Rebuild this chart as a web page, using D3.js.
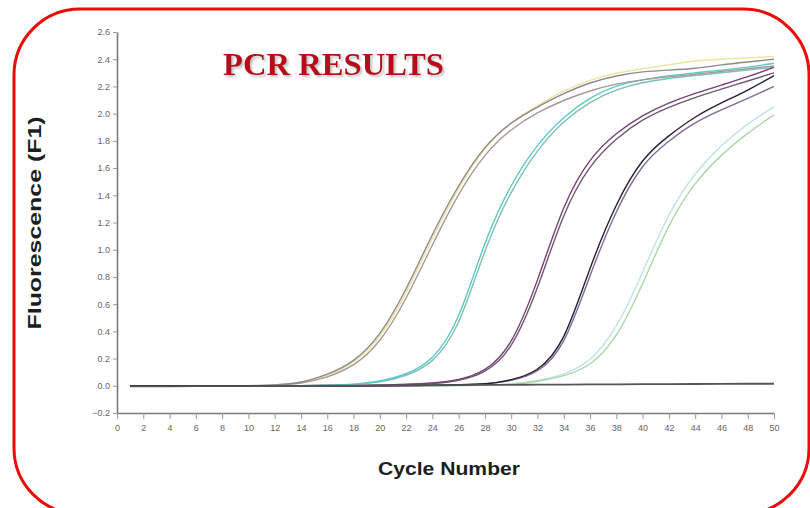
<!DOCTYPE html>
<html>
<head>
<meta charset="utf-8">
<script src="https://cdn.jsdelivr.net/npm/d3@7"></script>
<style>
  body { margin: 0; background: #fff; }
  svg { display: block; }
</style>
</head>
<body>
<div id="chart"></div>
<script>
// cycles at which fluorescence was read
const cycles = [1, 2, 4, 6, 8, 10, 12, 14, 16, 18, 20, 22, 24, 26, 28, 30, 32, 34, 36, 38, 40, 42, 44, 46, 48, 50];

// amplification curves (fluorescence F1), replicates per sample
const sampleA1 = [0, 0, 0, 0, 0, 0, 0.005, 0.02, 0.08, 0.17, 0.36, 0.70, 1.12, 1.48, 1.77, 1.94, 2.05, 2.15, 2.23, 2.28, 2.31, 2.32, 2.33, 2.36, 2.38, 2.40];
const sampleA2 = [0, 0, 0, 0, 0, 0, 0.003, 0.015, 0.06, 0.14, 0.31, 0.63, 1.04, 1.42, 1.71, 1.89, 2.01, 2.10, 2.17, 2.22, 2.25, 2.27, 2.29, 2.31, 2.33, 2.35];
const sampleA3 = [0, 0, 0, 0, 0, 0, 0.004, 0.018, 0.07, 0.16, 0.34, 0.67, 1.09, 1.46, 1.76, 1.94, 2.06, 2.17, 2.25, 2.30, 2.33, 2.36, 2.39, 2.40, 2.41, 2.42];
const sampleB1 = [0, 0, 0, 0, 0, 0, 0, 0, 0.005, 0.01, 0.03, 0.08, 0.18, 0.46, 1.08, 1.49, 1.78, 1.98, 2.12, 2.21, 2.25, 2.28, 2.30, 2.32, 2.34, 2.37];
const sampleB2 = [0, 0, 0, 0, 0, 0, 0, 0, 0.004, 0.008, 0.025, 0.07, 0.16, 0.41, 1.02, 1.44, 1.74, 1.95, 2.09, 2.18, 2.23, 2.26, 2.28, 2.30, 2.32, 2.34];
const sampleC1 = [0, 0, 0, 0, 0, 0, 0, 0, 0, 0, 0.005, 0.01, 0.02, 0.04, 0.10, 0.28, 0.76, 1.35, 1.68, 1.86, 1.99, 2.08, 2.15, 2.21, 2.27, 2.34];
const sampleC2 = [0, 0, 0, 0, 0, 0, 0, 0, 0, 0, 0.004, 0.008, 0.015, 0.035, 0.09, 0.25, 0.70, 1.29, 1.63, 1.82, 1.96, 2.05, 2.12, 2.18, 2.24, 2.30];
const sampleD1 = [0, 0, 0, 0, 0, 0, 0, 0, 0, 0, 0, 0, 0.005, 0.008, 0.01, 0.04, 0.10, 0.30, 0.88, 1.35, 1.68, 1.84, 1.98, 2.08, 2.17, 2.28];
const sampleD2 = [0, 0, 0, 0, 0, 0, 0, 0, 0, 0, 0, 0, 0.004, 0.006, 0.009, 0.035, 0.09, 0.27, 0.82, 1.30, 1.64, 1.80, 1.94, 2.03, 2.11, 2.20];
const sampleE1 = [0, 0, 0, 0, 0, 0, 0, 0, 0, 0, 0, 0, 0, 0, 0.005, 0.01, 0.03, 0.07, 0.14, 0.34, 0.74, 1.20, 1.50, 1.70, 1.86, 1.99];
const sampleE2 = [0, 0, 0, 0, 0, 0, 0, 0, 0, 0, 0, 0, 0, 0, 0.005, 0.012, 0.035, 0.08, 0.17, 0.41, 0.83, 1.28, 1.57, 1.77, 1.93, 2.05];
const negControl = [-0.005, -0.005, -0.004, -0.003, -0.003, -0.002, -0.001, 0, 0, 0.001, 0.002, 0.003, 0.004, 0.005, 0.006, 0.007, 0.008, 0.009, 0.010, 0.011, 0.012, 0.013, 0.013, 0.014, 0.015, 0.015];

const seriesNames = ["A3", "E2", "E1", "B2", "B1", "A2", "A1", "C2", "C1", "D2", "D1", "NTC"];
const seriesValues = [sampleA3, sampleE2, sampleE1, sampleB2, sampleB1, sampleA2, sampleA1, sampleC2, sampleC1, sampleD2, sampleD1, negControl];
const seriesColors = ["#efe3a0", "#bfe3e6", "#a9d8a6", "#7fbfb4", "#5cc9c9", "#a39a96", "#8a8a8a", "#6b5a70", "#7a3f78", "#7d6a9a", "#2a1f30", "#555555"];

const xTicks = d3.range(0, 51, 2);
const yTicks = [-0.2, 0.0, 0.2, 0.4, 0.6, 0.8, 1.0, 1.2, 1.4, 1.6, 1.8, 2.0, 2.2, 2.4, 2.6];

const width = 810, height = 508;

const svg = d3.select("#chart")
    .append("svg")
    .attr("width", width)
    .attr("height", height);

// ombre du titre
const defs = svg.append("defs");
defs.append("filter")
    .attr("id", "shadow")
    .attr("x", "-5%").attr("y", "-20%")
    .attr("width", "110%").attr("height", "150%")
    .append("feDropShadow")
    .attr("dx", 2).attr("dy", 2)
    .attr("stdDeviation", 1)
    .attr("flood-color", "#999")
    .attr("flood-opacity", 0.6);

// red rounded frame
svg.append("rect")
    .attr("x", 14)
    .attr("y", 9)
    .attr("width", 795)
    .attr("height", 505)
    .attr("rx", 66)
    .attr("fill", "none")
    .attr("stroke", "#ee0a0a")
    .attr("stroke-width", 3);

// scales
const x = d3.scaleLinear().domain([0, 50]).range([117, 774]);
const y = d3.scaleLinear().domain([-0.2, 2.6]).range([413, 32]);

// axes
const yAxis = svg.append("g")
    .attr("transform", "translate(117,0)")
    .call(d3.axisLeft(y).tickValues(yTicks).tickFormat(d3.format(".1f")).tickSize(4).tickSizeOuter(0).tickPadding(3));

const xAxis = svg.append("g")
    .attr("transform", "translate(0,413)")
    .call(d3.axisBottom(x).tickValues(xTicks).tickSize(6).tickSizeOuter(0).tickPadding(6));

[yAxis, xAxis].forEach(g => {
    g.select(".domain").attr("stroke", "#7a7a7a").attr("stroke-width", 1.6);
    g.selectAll(".tick line").attr("stroke", "#9a9a9a");
    g.selectAll(".tick text")
        .attr("fill", "#666")
        .style("font-family", "'Liberation Sans', Arial, sans-serif")
        .style("font-size", "9px");
});

// curves
const line = d3.line()
    .x((d, i) => x(cycles[i]))
    .y(d => y(d))
    .curve(d3.curveBasis);

svg.append("g")
    .selectAll("path")
    .data(seriesValues)
    .enter()
    .append("path")
    .attr("d", d => line(d))
    .attr("fill", "none")
    .attr("stroke", (d, i) => seriesColors[i])
    .attr("stroke-width", (d, i) => seriesNames[i] == "NTC" ? 1.8 : 1.4)
    .attr("stroke-linejoin", "round");

// titles
svg.append("text")
    .attr("x", 223)
    .attr("y", 75)
    .attr("fill", "#b5101a")
    .attr("filter", "url(#shadow)")
    .style("font-family", "'Liberation Serif', 'Times New Roman', serif")
    .style("font-weight", "bold")
    .style("font-size", "31px")
    .attr("textLength", 221)
    .attr("lengthAdjust", "spacingAndGlyphs")
    .text("PCR RESULTS");

svg.append("text")
    .attr("transform", "translate(41,223) rotate(-90)")
    .attr("text-anchor", "middle")
    .attr("fill", "#1e1e1e")
    .style("font-family", "'Liberation Sans', Arial, sans-serif")
    .style("font-weight", "bold")
    .style("font-size", "19px")
    .attr("textLength", 213)
    .attr("lengthAdjust", "spacingAndGlyphs")
    .text("Fluorescence (F1)");

svg.append("text")
    .attr("x", 449)
    .attr("y", 475)
    .attr("text-anchor", "middle")
    .attr("fill", "#1e1e1e")
    .style("font-family", "'Liberation Sans Narrow', 'Arial Narrow', 'Liberation Sans', sans-serif")
    .style("font-weight", "bold")
    .style("font-size", "19px")
    .attr("textLength", 142)
    .attr("lengthAdjust", "spacingAndGlyphs")
    .text("Cycle Number");
</script>
</body>
</html>
